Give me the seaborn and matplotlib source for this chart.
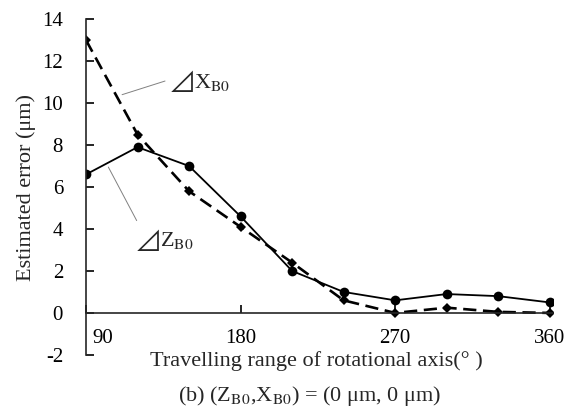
import numpy as np
import pandas as pd
import matplotlib
matplotlib.use("Agg")
import matplotlib.pyplot as plt
import matplotlib.transforms as mtransforms
import seaborn as sns

sns.set_style("ticks")
plt.rcParams['font.family'] = ['Liberation Serif', 'DejaVu Serif', 'DejaVu Sans']
plt.rcParams['mathtext.fontset'] = 'stix'
plt.rcParams['axes.unicode_minus'] = False

angle = [90, 120, 150, 180, 210, 240, 270, 300, 330, 360]
dz_b0 = [6.6, 7.9, 7.0, 4.6, 2.0, 1.0, 0.6, 0.9, 0.8, 0.5]
dx_b0 = [13.0, 8.5, 5.8, 4.1, 2.4, 0.6, 0.0, 0.25, 0.05, 0.0]

df = pd.DataFrame({"angle": angle, "dz": dz_b0, "dx": dx_b0})

fig, ax = plt.subplots(figsize=(5.75, 4.07), dpi=100)
fig.subplots_adjust(left=0.1496, right=0.962, top=0.953, bottom=0.128)

sns.lineplot(data=df, x="angle", y="dx", ax=ax, color="black", lw=1.9,
             marker="D", markersize=5.5, markeredgewidth=0,
             linestyle=(0, (5, 2.5)))
sns.lineplot(data=df, x="angle", y="dz", ax=ax, color="black", lw=1.3,
             marker="o", markersize=7, markeredgewidth=0)

ax.set_xlim(90, 362)
ax.set_ylim(-2, 14)
ax.set_yticks(range(-2, 15, 2))
ax.set_xticks([90, 180, 270, 360])
ax.spines['top'].set_visible(False)
ax.spines['right'].set_visible(False)
ax.spines['bottom'].set_position(('data', 0))
for s in ax.spines.values():
    s.set_linewidth(1.2)
ax.tick_params(axis='both', direction='in', length=6, width=1.2,
               labelsize=15, colors='black')
ax.tick_params(axis='x', pad=11.5)
ax.tick_params(axis='y', pad=16.5)
first = ax.get_xticklabels()[0]
first.set_horizontalalignment('left')
first.set_transform(first.get_transform() +
                    mtransforms.ScaledTranslation(6 / 100, 0, fig.dpi_scale_trans))

ax.set_xlabel("Travelling range of rotational axis(° )", fontsize=16)
ax.set_ylabel("Estimated error (μm)", fontsize=16)
ax.xaxis.set_label_coords(0.494, 0.01)
ax.yaxis.set_label_coords(-0.108, 0.5)

# leader lines
line_kw = dict(arrowstyle='-', color='gray', lw=0.7, shrinkA=0, shrinkB=0)
ax.annotate("", xy=(111, 10.4), xytext=(136, 11.05), arrowprops=line_kw)
ax.annotate("", xy=(103, 6.95), xytext=(119.5, 4.4), arrowprops=line_kw)

# labels: triangle glyph then the variable name
tri_family = ['STIXGeneral', 'DejaVu Sans']
tri_x = ax.text(139, 11.0, "⊿", fontsize=19, va='center', ha='left',
                family=tri_family)
ax.annotate("X$_{\\mathrm{B0}}$", xy=(1.0, 0.5), xycoords=tri_x,
            fontsize=16, va='center', ha='left')
tri_z = ax.text(119, 3.45, "⊿", fontsize=19, va='center', ha='left',
                family=tri_family)
ax.annotate("Z$_{\\mathrm{B0}}$", xy=(1.0, 0.5), xycoords=tri_z,
            fontsize=16, va='center', ha='left')

fig.text(0.539, 0.027, "(b) (Z$_{\\mathrm{B0}}$,X$_{\\mathrm{B0}}$) = (0 μm, 0 μm)",
         ha='center', va='center', fontsize=16)

fig.savefig("out.png", dpi=100)
